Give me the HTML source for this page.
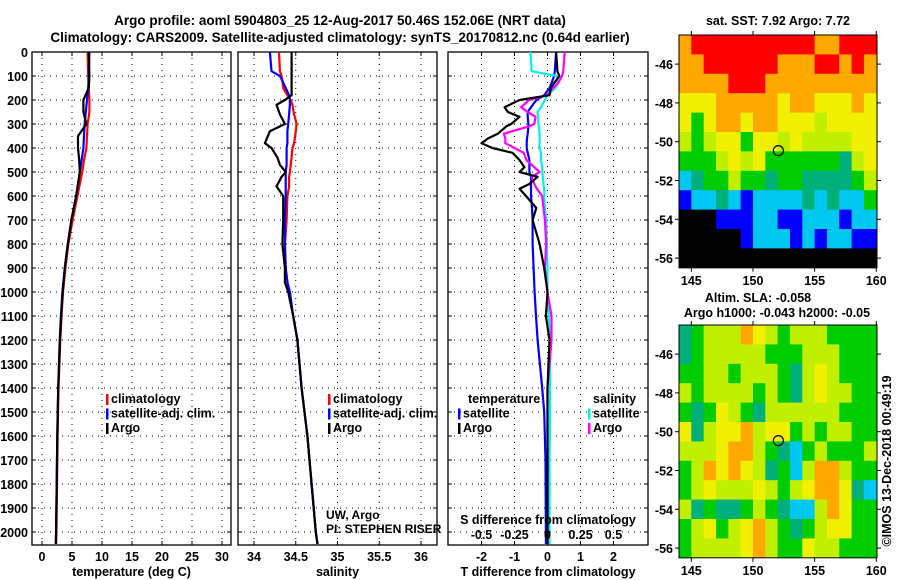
<!DOCTYPE html>
<html><head><meta charset="utf-8"><style>
html,body{margin:0;padding:0;background:#fff;}
svg{display:block;font-family:"Liberation Sans",Arial,sans-serif;}
.b{font-weight:bold;font-size:12.5px;}
</style></head><body>
<svg id="fig" width="900" height="580" viewBox="0 0 900 580" xmlns="http://www.w3.org/2000/svg">
<text x="340" y="25" text-anchor="middle" class="b" style="font-size:13.5px">Argo profile: aoml 5904803_25 12-Aug-2017 50.46S 152.06E (NRT data)</text>
<text x="340" y="42" text-anchor="middle" class="b" style="font-size:13.5px">Climatology: CARS2009. Satellite-adjusted climatology: synTS_20170812.nc (0.64d earlier)</text>
<g id="g"></g>
</svg>
<script>
// ---- profile data ----
const depths = [0,100,150,200,250,300,350,400,450,500,600,700,800,900,1000,1100,1200,1400,1600,1800,2000,2050];
const tempClim = [7.6,7.7,7.8,7.9,7.9,7.6,7.5,7.4,7.0,6.7,5.9,5.1,4.4,3.9,3.5,3.25,3.05,2.75,2.6,2.5,2.4,2.35];
const tempSat  = [7.9,7.8,7.7,7.5,7.3,7.1,7.0,6.9,6.6,6.3,5.7,4.9,4.3,3.8,3.4,3.15,2.95,2.7,2.55,2.45,2.35,2.3];
const tempArgo = [7.8,7.9,7.8,6.9,6.9,7.4,6.0,6.0,6.2,6.3,5.7,4.9,4.3,3.8,3.45,3.2,3.0,2.7,2.55,2.45,2.35,2.3];
const salDepths = [0,80,100,120,150,180,200,220,260,300,330,380,400,440,470,500,520,560,600,700,800,900,960,1000,1100,1200,1400,1600,1800,2000,2050];
const salClim = [34.30,34.31,34.33,34.34,34.35,34.40,34.44,34.46,34.48,34.51,34.50,34.48,34.46,34.45,34.44,34.43,34.42,34.42,34.40,34.39,34.37,34.38,34.40,34.42,34.47,34.52,34.57,34.64,34.69,34.74,34.76];
const salSat  = [34.19,34.21,34.31,34.34,34.38,34.42,34.43,34.43,34.42,34.41,34.40,34.40,34.39,34.39,34.39,34.38,34.38,34.38,34.38,34.37,34.37,34.38,34.40,34.43,34.47,34.52,34.57,34.64,34.69,34.74,34.76];
const salArgo = [34.45,34.45,34.45,34.45,34.45,34.45,34.37,34.27,34.31,34.37,34.19,34.13,34.21,34.28,34.31,34.38,34.33,34.27,34.35,34.35,34.34,34.37,34.37,34.41,34.47,34.52,34.57,34.64,34.69,34.74,34.76];
// ---- difference data ----
const diffDepths = [0,80,100,130,150,180,200,230,250,270,300,310,340,360,380,400,420,450,480,500,520,550,570,600,650,700,800,900,1000,1100,1200,1400,1500,1700,2000,2050];
const tDiffSat  = [0.26,0.22,0.2,0.12,0.06,-0.1,-0.34,-0.5,-0.6,-0.6,-0.58,-0.58,-0.6,-0.62,-0.63,-0.63,-0.6,-0.55,-0.55,-0.55,-0.5,-0.5,-0.5,-0.5,-0.47,-0.45,-0.45,-0.42,-0.39,-0.35,-0.3,-0.16,-0.1,-0.06,-0.05,-0.05];
const tDiffArgo = [0.26,0.3,0.36,0.2,0.1,0.06,-0.85,-1.3,-1.2,-0.85,-1.1,-1.25,-1.5,-1.8,-2.0,-1.67,-1.06,-0.85,-0.7,-0.85,-0.3,-0.55,-0.85,-0.65,-0.34,-0.45,-0.24,-0.1,0.0,-0.05,0.06,0.0,0.0,0.0,0.0,0.0];
const sDiffArgo = [0.13,0.12,0.11,0.08,0.04,0.0,-0.14,-0.2,-0.15,-0.09,-0.1,-0.14,-0.33,-0.32,-0.32,-0.25,-0.18,-0.16,-0.1,-0.06,-0.12,-0.1,-0.08,-0.04,-0.03,-0.02,-0.01,-0.02,0.0,0.03,0.03,0.0,0.0,0.0,0.0,0.0];
const sDiffSat  = [-0.13,-0.12,0.07,0.08,0.06,0.0,-0.02,-0.05,-0.075,-0.07,-0.07,-0.065,-0.06,-0.06,-0.06,-0.06,-0.05,-0.05,-0.04,-0.04,-0.035,-0.03,-0.025,-0.025,-0.02,-0.01,-0.005,0.0,0.0,0.01,0.02,0.02,0.02,0.015,0.015,0.015];
const depthTicks = [0,100,200,300,400,500,600,700,800,900,1000,1100,1200,1300,1400,1500,1600,1700,1800,1900,2000];
const tempTicks = [0,5,10,15,20,25,30];
const salTicks = [34,34.5,35,35.5,36];
const salTickLabels = ["34","34.5","35","35.5","36"];
const tDiffTicks = [-2,-1,0,1,2];
const sDiffTicks = [-0.5,-0.25,0,0.25,0.5];
const sDiffTickLabels = ["-0.5","-0.25","0","0.25","0.5"];
// ---- map data (1 deg cells, lon 144..160, lat -44.5..-56.5) ----
const mapLons = [144,145,146,147,148,149,150,151,152,153,154,155,156,157,158,159];
const mapLats = [-44.5,-45.5,-46.5,-47.5,-48.5,-49.5,-50.5,-51.5,-52.5,-53.5,-54.5,-55.5];
const sstClass = [
[7,8,8,8,8,8,8,8,8,8,8,7,7,8,8,8],
[7,7,8,8,8,8,8,8,7,7,7,8,8,7,8,7],
[7,7,7,7,8,8,8,7,7,7,7,7,7,7,7,7],
[6,6,6,7,7,7,7,7,6,7,7,6,6,6,7,6],
[6,4,6,7,7,6,7,7,6,6,6,5,6,6,6,6],
[5,4,5,6,6,4,6,6,5,6,5,5,5,5,6,6],
[4,4,4,5,6,5,6,4,4,4,4,4,4,3,5,6],
[2,3,4,4,5,4,4,3,4,4,3,3,3,3,4,5],
[1,2,2,3,2,1,2,2,2,2,3,2,3,2,2,4],
[0,0,0,1,1,1,2,2,1,1,2,2,2,1,2,2],
[0,0,0,0,0,1,2,2,2,1,2,1,2,2,1,1],
[0,0,0,0,0,0,0,0,0,0,0,0,0,0,0,0]];
const slaClass = [
[3,4,5,5,5,7,6,5,4,5,5,5,4,4,4,4],
[3,4,5,5,5,5,5,4,4,4,5,5,5,4,4,4],
[4,4,5,5,4,5,5,5,4,3,5,6,5,4,4,4],
[5,4,5,5,5,5,4,5,4,3,5,6,5,5,4,4],
[4,3,4,6,5,4,3,5,5,5,5,5,5,4,4,4],
[6,3,5,6,6,7,5,6,6,4,5,4,5,5,4,4],
[5,5,5,6,7,7,5,4,3,2,4,5,4,4,4,5],
[4,5,7,6,7,6,5,3,4,2,5,7,7,5,4,4],
[4,5,6,5,5,5,6,5,4,5,6,7,7,6,3,2],
[5,3,4,3,3,4,5,4,3,2,2,5,7,6,4,4],
[4,5,6,4,5,6,7,5,4,3,4,5,6,6,4,4],
[4,5,5,5,5,6,7,5,4,4,6,5,5,4,4,4]];
const mapLonTicks = [145,150,155,160];
const mapLatTicks = [-46,-48,-50,-52,-54,-56];
const argoLon = 152.06, argoLat = -50.46;

const palette = ["#000000","#0000ff","#00c8f0","#00b07a","#00cc00","#c0f000","#f0f000","#ffa800","#ff0000"];
const NS="http://www.w3.org/2000/svg";
const G=document.getElementById('g');
function mk(tag,attrs,parent){const e=document.createElementNS(NS,tag);for(const k in attrs)e.setAttribute(k,attrs[k]);(parent||G).appendChild(e);return e;}
function txt(x,y,s,anchor,cls,parent){const t=mk('text',{x:x,y:y,'text-anchor':anchor||'start','class':cls||'b'},parent);t.textContent=s;return t;}

const Y0=52, PX_PER_M=0.24, YB=545;
const yD=d=>Y0+d*PX_PER_M;
const xT=v=>42+v*6;
const xS=v=>254+(v-34)*83.5;
const xTd=v=>547.5+v*33;
const xSd=v=>547.5+v*132;

function panel(name,x0,x1,xticks,xfn,labels,xlabel,showY){
  const g=mk('g',{});
  
  
  depthTicks.forEach(d=>{
    const l=mk('line',{x1:x0,x2:x1,y1:yD(d),y2:yD(d),stroke:'#000','stroke-width':1,'stroke-dasharray':'1 5'},g);
    
    
    mk('line',{x1:x0,x2:x0+4,y1:yD(d),y2:yD(d),stroke:'#000'},g);
    mk('line',{x1:x1-4,x2:x1,y1:yD(d),y2:yD(d),stroke:'#000'},g);
    if(showY){const t=txt(x0-4,yD(d)+5,String(d),'end','b',g);
      
      }
  });
  xticks.forEach((v,i)=>{
    const x=xfn(v);
    const l=mk('line',{x1:x,x2:x,y1:Y0,y2:YB,stroke:'#000','stroke-width':1,'stroke-dasharray':'1 5'},g);
    
    
    mk('line',{x1:x,x2:x,y1:YB-4,y2:YB,stroke:'#000'},g);
    mk('line',{x1:x,x2:x,y1:Y0,y2:Y0+4,stroke:'#000'},g);
    const t=txt(x,561,labels[i],'middle','b',g);
    
    
  });
  const r=mk('rect',{x:x0,y:Y0,width:x1-x0,height:YB-Y0,fill:'none',stroke:'#000','stroke-width':1.3},g);
  
  
  const t=txt((x0+x1)/2,576,xlabel,'middle','b',g);
  
  
  return g;
}
function series(name,ds,vals,fn,color,w){
  const pts=ds.map((d,i)=>fn(vals[i]).toFixed(1)+','+yD(d).toFixed(1)).join(' ');
  const p=mk('polyline',{points:pts,fill:'none',stroke:color,'stroke-width':w||2.2,'stroke-linejoin':'round'});
  
  
}
function legend(name,x,y,items){
  const g=mk('g',{});
  
  
  items.forEach((it,i)=>{
    if(it[1]) mk('rect',{x:x,y:y+i*14.5-9,width:2.5,height:11,fill:it[1]},g);
    const t=txt(x+(it[1]?5:0),y+i*14.5,it[0],'start','b',g);
    
    
  });
}

panel('temperature-panel',32,231,tempTicks,xT,tempTicks.map(String),'temperature (deg C)',true);
series('temp-climatology-line',depths,tempClim,xT,'#ff0000');
series('temp-satellite-line',depths,tempSat,xT,'#0000ff');
series('temp-argo-line',depths,tempArgo,xT,'#000000');
legend('temperature-legend',106,403,[['climatology','#ff0000'],['satellite-adj. clim.','#0000ff'],['Argo','#000000']]);

panel('salinity-panel',238,437,salTicks,xS,salTickLabels,'salinity',false);
series('sal-climatology-line',salDepths,salClim,xS,'#ff0000');
series('sal-satellite-line',salDepths,salSat,xS,'#0000ff');
series('sal-argo-line',salDepths,salArgo,xS,'#000000');
legend('salinity-legend',328,403,[['climatology','#ff0000'],['satellite-adj. clim.','#0000ff'],['Argo','#000000']]);
const pi1=txt(326,519,'UW, Argo','start','',null); pi1.setAttribute('style','font-size:12px');


const pi2=txt(326,533,'PI: STEPHEN RISER','start','',null); pi2.setAttribute('style','font-size:12px');



panel('difference-panel',448,648,tDiffTicks,xTd,tDiffTicks.map(String),'T difference from climatology',false);
series('tdiff-satellite-line',diffDepths,tDiffSat,xTd,'#0000ff');
series('sdiff-satellite-line',diffDepths,sDiffSat,xSd,'#00f0f0');
series('sdiff-argo-line',diffDepths,sDiffArgo,xSd,'#ff00ff');
series('tdiff-argo-line',diffDepths,tDiffArgo,xTd,'#000000');
legend('tdiff-legend',458,403,[['temperature',null],['satellite','#0000ff'],['Argo','#000000']]);
G.lastChild.firstChild.setAttribute('x',468);
legend('sdiff-legend',588,403,[['salinity',null],['satellite','#00f0f0'],['Argo','#ff00ff']]);
G.lastChild.firstChild.setAttribute('x',593);
const sdt=txt(548,524,'S difference from climatology','middle','b',null);


sDiffTicks.forEach((v,i)=>{
  const t=txt(xSd(v),539,sDiffTickLabels[i],'middle','b',null);
  
  
});

// ---- maps ----
const MX0=679,MX1=877,PXLON=12.33,PXLAT=19.4;
const xLon=l=>MX0+(l-144)*PXLON;
function drawMap(name,top,grid){
  const g=mk('g',{});
  
  
  const yLat=l=>top+(-44.5-l)*PXLAT;
  mapLats.forEach((lat,r)=>mapLons.forEach((lon,c)=>{
    const x=xLon(lon), w=Math.min(xLon(lon+1),MX1)-x;
    const cell=mk('rect',{x:x,y:yLat(lat),width:w+0.4,height:PXLAT+0.4,fill:palette[grid[r][c]]},g);
    
    
  }));
  mk('rect',{x:MX0,y:top,width:MX1-MX0,height:12*PXLAT,fill:'none',stroke:'#000','stroke-width':1},g);
  mapLonTicks.forEach(l=>{
    mk('line',{x1:xLon(l),x2:xLon(l),y1:top-4,y2:top,stroke:'#000'},g);
    mk('line',{x1:xLon(l),x2:xLon(l),y1:top+12*PXLAT,y2:top+12*PXLAT+4,stroke:'#000'},g);
    const t=txt(xLon(l),top+12*PXLAT+17,String(l),'middle','b',g);
    
    
  });
  mapLatTicks.forEach(l=>{
    mk('line',{x1:MX0-4,x2:MX0,y1:yLat(l),y2:yLat(l),stroke:'#000'},g);
    mk('line',{x1:MX1,x2:MX1+4,y1:yLat(l),y2:yLat(l),stroke:'#000'},g);
    const t=txt(MX0-6,yLat(l)+5,String(l),'end','b',g);
    
    
  });
  const c=mk('circle',{cx:xLon(argoLon),cy:yLat(argoLat),r:5,fill:'none',stroke:'#000','stroke-width':1.2},g);
  
  
}
drawMap('sst-map',35,sstClass);
drawMap('sla-map',325,slaClass);
const m1=txt(778,25,'sat. SST: 7.92 Argo: 7.72','middle','b',null);


const m2=txt(758,302,'Altim. SLA: -0.058','middle','b',null);


const m3=txt(777,317,'Argo h1000: -0.043 h2000: -0.05','middle','b',null);


const cp=txt(0,0,'©IMOS 13-Dec-2018 00:49:19','middle','',null);
cp.setAttribute('transform','translate(891,461) rotate(-90)');
cp.setAttribute('style','font-size:12.5px');


</script>
</body></html>
